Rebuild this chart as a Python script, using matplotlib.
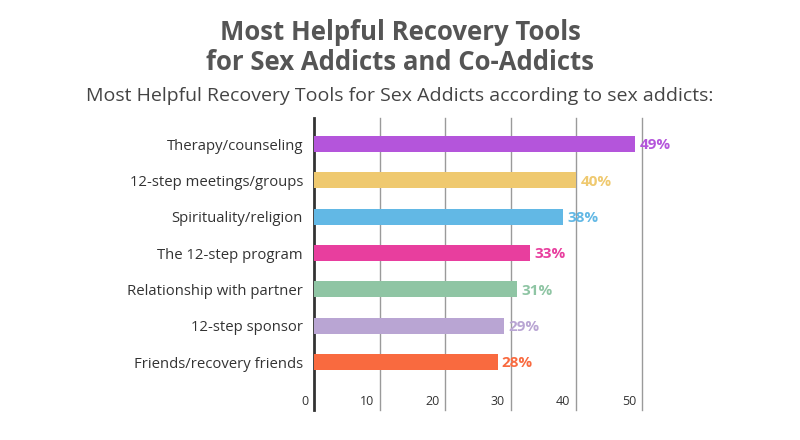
import matplotlib.pyplot as plt

categories = ['Therapy/counseling', '12-step meetings/groups', 'Spirituality/religion',
              'The 12-step program', 'Relationship with partner', '12-step sponsor',
              'Friends/recovery friends']
values = [49, 40, 38, 33, 31, 29, 28]
colors = ['#B455DB', '#EFC96F', '#62B8E5', '#E83E9E', '#8FC5A4', '#B9A5D3', '#F96A3F']
ticks = [0, 10, 20, 30, 40, 50]

plt.rcParams['font.family'] = ['Open Sans', 'DejaVu Sans']

fig = plt.figure(figsize=(8, 4.4), dpi=100)
ax = fig.add_axes([314 / 800, 1 - 410 / 440, (642 - 314) / 800, (410 - 118) / 440])

y = list(range(len(categories)))
ax.barh(y, values, height=0.44, color=colors, zorder=3)
ax.set_xlim(0, 50)
ax.set_ylim(7.32, -0.72)

for t in ticks[1:]:
    ax.axvline(t, color='#9a9a9a', lw=1, zorder=1, clip_on=False)
for t in ticks:
    ax.text(t - 0.9, 7.08, str(t), ha='right', va='center', fontsize=9, color='#333333')

for yi, v, c in zip(y, values, colors):
    ax.text(v + 0.6, yi + 0.03, f'{v}%', ha='left', va='center', fontsize=11,
            fontweight='bold', color=c)

ax.set_yticks(y)
ax.set_yticklabels(categories, fontsize=10.7, color='#333333')
ax.tick_params(axis='y', length=0, pad=8)
ax.set_xticks([])
for s in ['top', 'right', 'bottom']:
    ax.spines[s].set_visible(False)
ax.spines['left'].set_color('#333333')
ax.spines['left'].set_linewidth(2)

fig.text(0.5, 1 - 40 / 440, 'Most Helpful Recovery Tools', ha='center', va='baseline',
         fontsize=18.5, fontweight='bold', color='#555555')
fig.text(0.5, 1 - 70 / 440, 'for Sex Addicts and Co-Addicts', ha='center', va='baseline',
         fontsize=18.5, fontweight='bold', color='#555555')
fig.text(0.5, 1 - 101 / 440, 'Most Helpful Recovery Tools for Sex Addicts according to sex addicts:',
         ha='center', va='baseline', fontsize=14, color='#444444')

fig.savefig('out.png', dpi=100)
